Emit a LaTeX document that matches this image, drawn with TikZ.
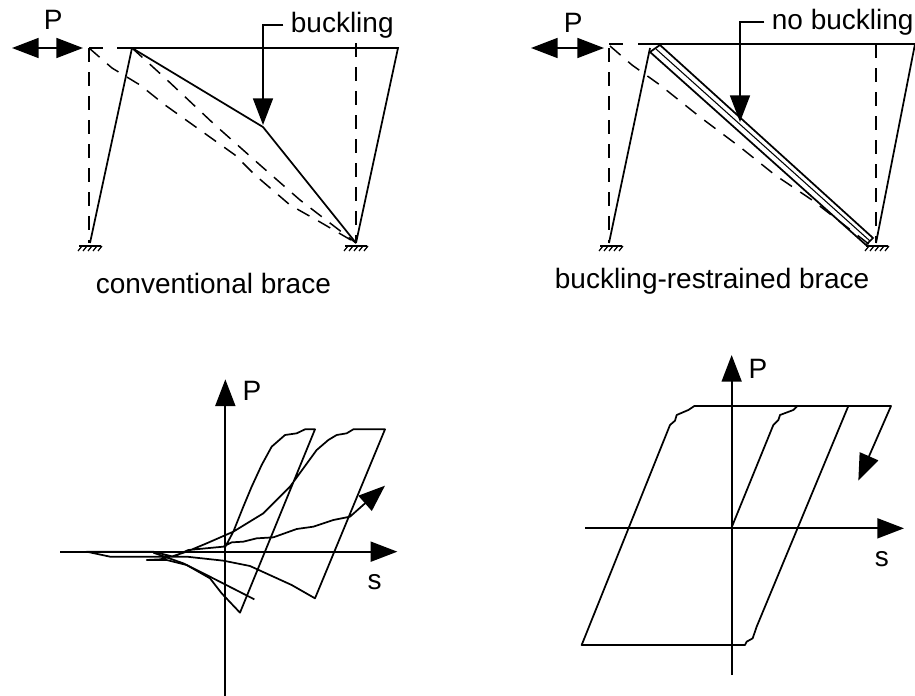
\documentclass[tikz,border=0pt]{standalone}
\usepackage{fontspec}
\setmainfont{Liberation Sans}
\usetikzlibrary{arrows.meta}
\tikzset{
  bigtip/.style={>={Triangle[length=20pt,width=15pt]}},
  textlabel/.style={anchor=base west, inner sep=0pt, font=\fontsize{21}{25}\selectfont},
  ghost/.style={line width=1.1pt, dash pattern=on 10.5pt off 7.5pt},
  curve/.style={line width=1.3pt, line join=round},
  ground/.style={line width=0.9pt}
}
\begin{document}
\begin{tikzpicture}[x=0.75pt, y=-0.75pt, line width=1.3pt, bigtip]
    \useasboundingbox (0,0) rectangle (915,696);
    % conventional frame
    \draw (117,48) -- (398,48) -- (356,243);
    \draw (132,48) -- (90,243);
    \draw (132,48) -- (263,127) -- (356,243);
    \draw[ghost] (89,48) -- (89,243);
    \draw[ghost] (356,43) -- (356,243);
    \draw[ghost] (89,48) -- (105,48);
    \draw[ghost] (132,48) -- (165,78) -- (215,125) -- (260,165) -- (300,200) -- (356,243);
    \draw[ghost] (89,48) -- (112,68) -- (140,85) -- (165,105) -- (200,130) -- (235,155) -- (255,175) -- (290,205) -- (320,222) -- (356,243);
    % restrained frame
    \draw (638,44) -- (915,44) -- (876,243);
    \draw (650,48) -- (609,243);
    \draw (660,45) -- (873,238) -- (866,245) -- (650,52) -- cycle;
    \draw[line width=0.8pt] (656,49) -- (870,241);
    \draw[ghost] (609,48) -- (609,243);
    \draw[ghost] (876,44) -- (876,243);
    \draw[ghost] (609,44) -- (625,44);
    \draw[ghost] (610,46) -- (632,65) -- (660,85) -- (700,117) -- (740,147) -- (775,175) -- (812,200) -- (870,245);
    % supports
    \foreach \gx in {90,356,611,877} {
        \draw[ground] (\gx-11,246) -- (\gx+11,246);
        \foreach \tick in {-10,-5,0,5,10}
            \draw[ground] (\gx+\tick+2,246) -- (\gx+\tick-2,251);
    }
    % labels and load arrows
    \node[textlabel] (pleft) at (43,30) {P};
    \node[textlabel] (pright) at (563,32) {P};
    \node[textlabel] (buckling) at (290,32) {buckling};
    \node[textlabel] (nobuckling) at (771,29) {no buckling};
    \node[textlabel] (conventional) at (95,293) {conventional brace};
    \node[textlabel] (restrained) at (554,288) {buckling-restrained brace};
    \coordinate (kinka) at (263,125);
    \coordinate (kinkb) at (740,122);
    \draw[<->] (12,48) -- (83,48);
    \draw[<->] (531,48) -- (604,48);
    \draw[->, shorten <=5pt] (buckling.west) -| (kinka);
    \draw[->, shorten <=5pt] (nobuckling.west) -| (kinkb);
    % conventional hysteresis
    \begin{scope}[shift={(40,330)}, x=0.25pt, y=-0.25pt]
        \draw[->] (556,1098) -- (556,148);
        \draw[->] (60,665) -- (1072,665);
        \node[textlabel] (paxisa) at (605,212) {P};
        \node[textlabel] (saxisa) at (980,778) {s};
        \draw[curve, ->] (555,652) -- (580,605) -- (610,530) -- (635,470) -- (665,405) -- (695,350) -- (735,315) -- (770,310) -- (795,298) -- (825,298)
            -- (600,848) -- (545,790) -- (510,745) -- (440,705) -- (380,690) -- (320,690)
            -- (360,688) -- (400,678) -- (440,665) -- (500,640) -- (580,605) -- (670,550) -- (750,470) -- (790,415) -- (830,360) -- (865,330) -- (890,315) -- (920,310) -- (940,298) -- (1035,298)
            -- (825,805) -- (755,765) -- (630,708) -- (550,692) -- (440,680) -- (210,680) -- (140,665)
            -- (340,665) -- (400,680) -- (445,660) -- (550,650) -- (575,637) -- (610,635) -- (650,625) -- (700,622) -- (770,597) -- (820,590) -- (880,570) -- (930,560) -- (1035,467);
        \draw[curve] (643,808) -- (500,735) -- (430,700) -- (340,668);
    \end{scope}
    % restrained hysteresis
    \begin{scope}[shift={(560,330)}, x=0.25pt, y=-0.25pt]
        \draw[->] (515,1035) -- (515,75);
        \draw[->] (75,595) -- (1032,595);
        \node[textlabel] (paxisb) at (563,145) {P};
        \node[textlabel] (saxisb) at (942,708) {s};
        \draw[curve, ->] (515,592) -- (640,285) -- (655,270) -- (660,255) -- (700,240) -- (712,228) -- (993,228) -- (895,452);
        \draw[curve] (865,228) -- (590,890) -- (578,925) -- (560,935) -- (555,945) -- (65,945) -- (330,285) -- (345,272) -- (350,255) -- (385,240) -- (403,228) -- (712,228);
    \end{scope}
\end{tikzpicture}
\end{document}
